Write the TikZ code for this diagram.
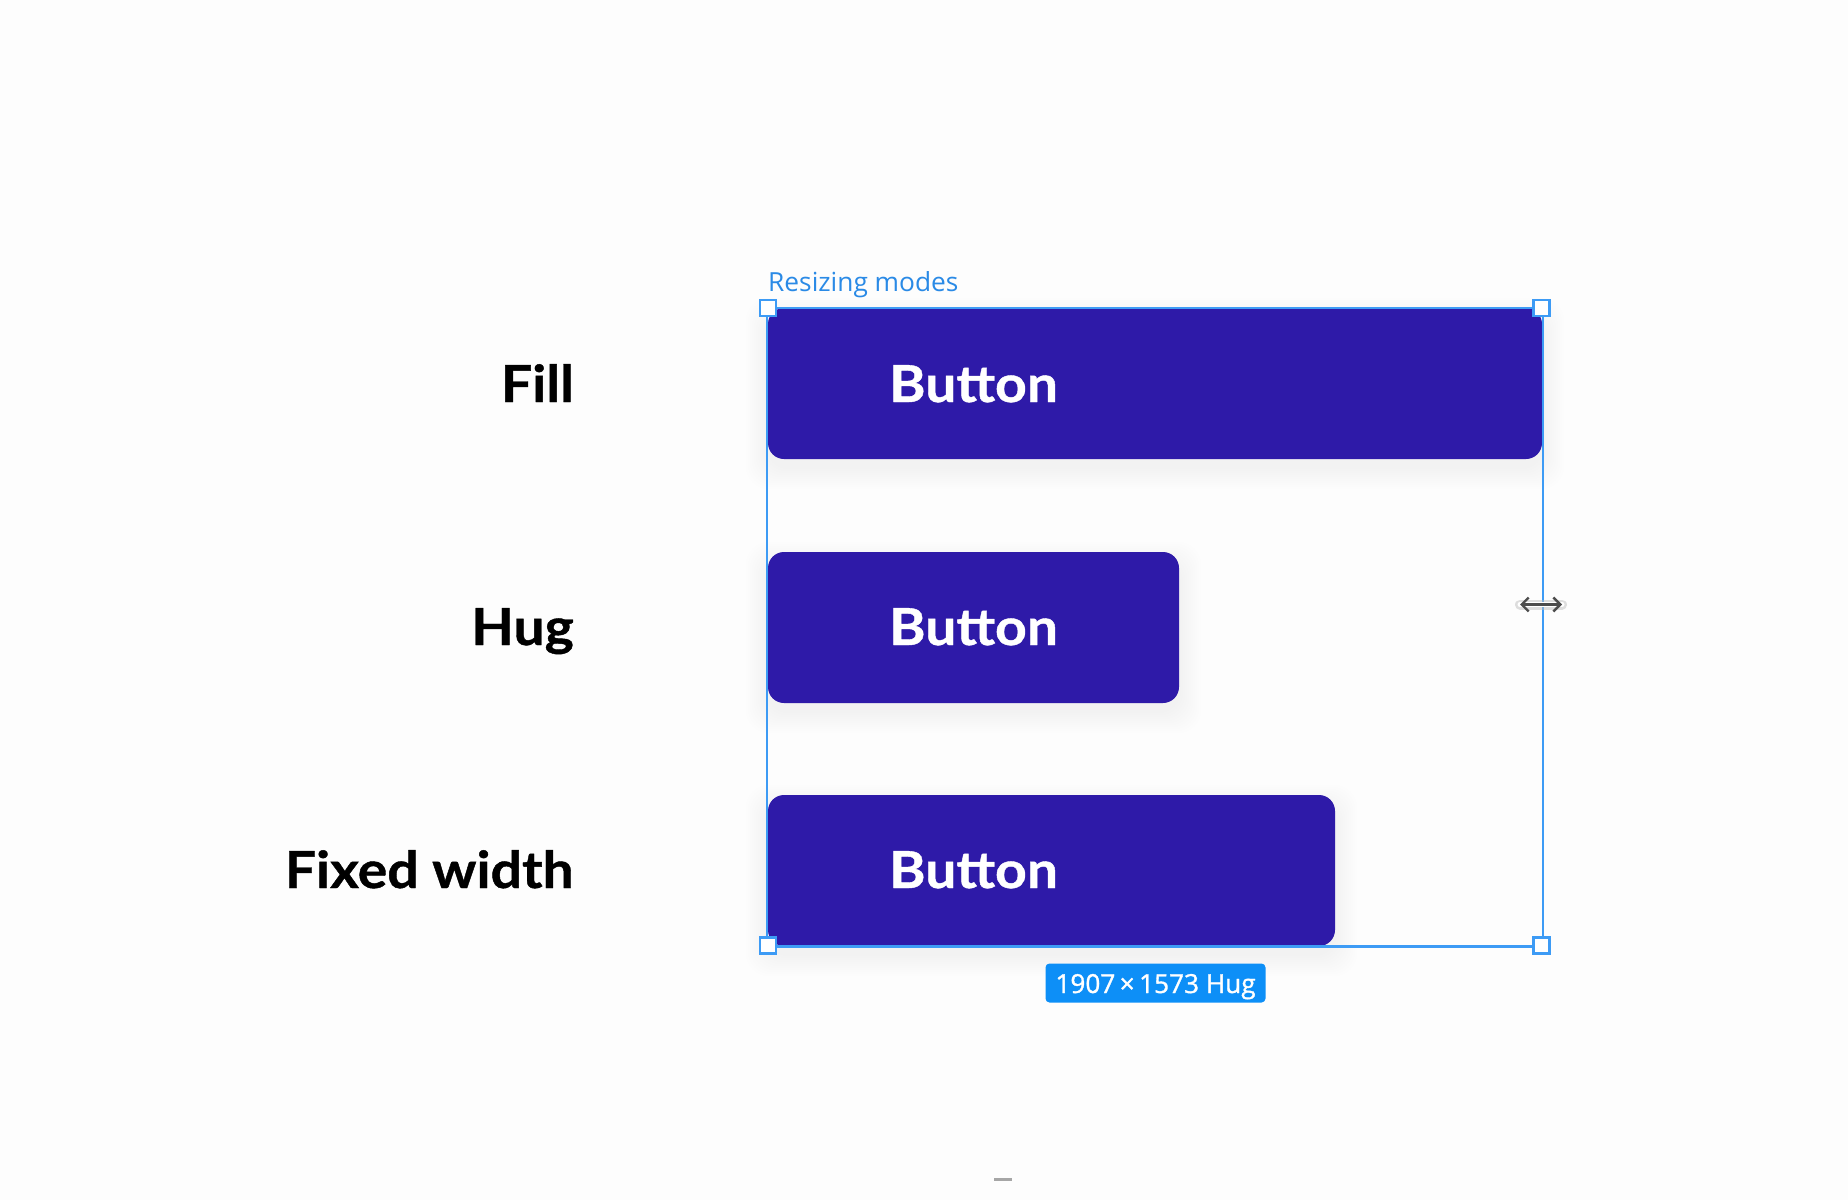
\documentclass[tikz,border=0pt]{standalone}
\usepackage{fontspec}
\setmainfont{Lato}
\newfontfamily\uifont{Open Sans}
\newfontfamily\badgefont[FakeBold=1.2]{Open Sans}
\newfontfamily\headfont[FakeBold=0.8,FakeStretch=1.085]{Lato Bold}
\usetikzlibrary{arrows.meta}
\definecolor{bgc}{HTML}{FDFDFD}
\definecolor{btnc}{HTML}{2E1AA8}
\definecolor{selc}{HTML}{3D9BF5}
\definecolor{badgec}{HTML}{0D8FF7}
\definecolor{capc}{HTML}{2A8AE6}
\tikzset{
  x=1pt,y=-1pt,
  btnlabel/.style={anchor=base west,inner sep=0,text=white,font=\headfont\fontsize{51}{51}\selectfont},
  rowlabel/.style={anchor=base east,inner sep=0,text=black,font=\headfont\fontsize{51}{51}\selectfont},
  handle/.style={draw=selc,fill=white,line width=2.5pt,minimum size=16pt,inner sep=0,shape=rectangle},
  btnbox/.style={fill=btnc,rounded corners=16pt},
  softshadow/.style={fill=black,fill opacity=0.0028,rounded corners=22pt},
  selline/.style={draw=selc,line width=2.6pt},
}
\newcommand{\softbox}[4]{%
  \foreach \d in {2,4,...,22}{
    \fill[softshadow] (#1-\d,#2+12-\d) rectangle (#3+\d,#4+8+\d);
  }
  \fill[btnbox] (#1,#2) rectangle (#3,#4);
}
\begin{document}
\begin{tikzpicture}
\path[use as bounding box,fill=bgc] (0,0) rectangle (1848,1200);

\softbox{768}{308}{1542}{459}
\softbox{768}{552}{1179}{703}
\softbox{768}{795}{1335}{946}

\coordinate (tl) at (767,308);
\coordinate (tr) at (1543,308);
\coordinate (br) at (1543,946.5);
\coordinate (bl) at (767,946.5);
\draw[selline] (tl) -- (tr) -- (br) -- (bl) -- cycle;

\node[handle] (h1) at (768,308) {};
\node[handle] (h2) at (1541.5,308) {};
\node[handle] (h3) at (1541.5,945.5) {};
\node[handle] (h4) at (768,945.5) {};

\node[btnlabel] (b1) at (889,402) {Button};
\node[btnlabel] (b2) at (889,645) {Button};
\node[btnlabel] (b3) at (889,888) {Button};

\node[rowlabel] (l1) at (574,402) {Fill};
\node[rowlabel] (l2) at (574,645) {Hug};
\node[rowlabel] (l3) at (574,888) {Fixed width};

\node[anchor=base west,inner sep=0,text=capc,font=\uifont\fontsize{26.3}{26.3}\selectfont] (cap) at (768,291) {Resizing modes};

\node[fill=badgec,rounded corners=4pt,minimum width=220pt,minimum height=39pt,inner sep=0] (badge) at (1155.5,983) {};
\node[anchor=base,inner sep=0,text=white,font=\badgefont\fontsize{26.2}{26.2}\selectfont] (badgetext) at (1155.5,993) {1907\,×\,1573 Hug};

\coordinate (cl) at (1520,604.5);
\coordinate (cr) at (1562,604.5);
\draw[black!25,opacity=0.5,line width=10pt,line cap=round] (cl) -- (cr);
\draw[white,line width=5pt,line cap=round] (cl) -- (cr);
\draw[black!70,line width=2.4pt,{Straight Barb[length=7pt,width=14pt]}-{Straight Barb[length=7pt,width=14pt]}] (cl) -- (cr);

\coordinate (ml) at (994,1179);
\coordinate (mr) at (1012,1179);
\draw[black!35,line width=3pt] (ml) -- (mr);
\end{tikzpicture}
\end{document}
